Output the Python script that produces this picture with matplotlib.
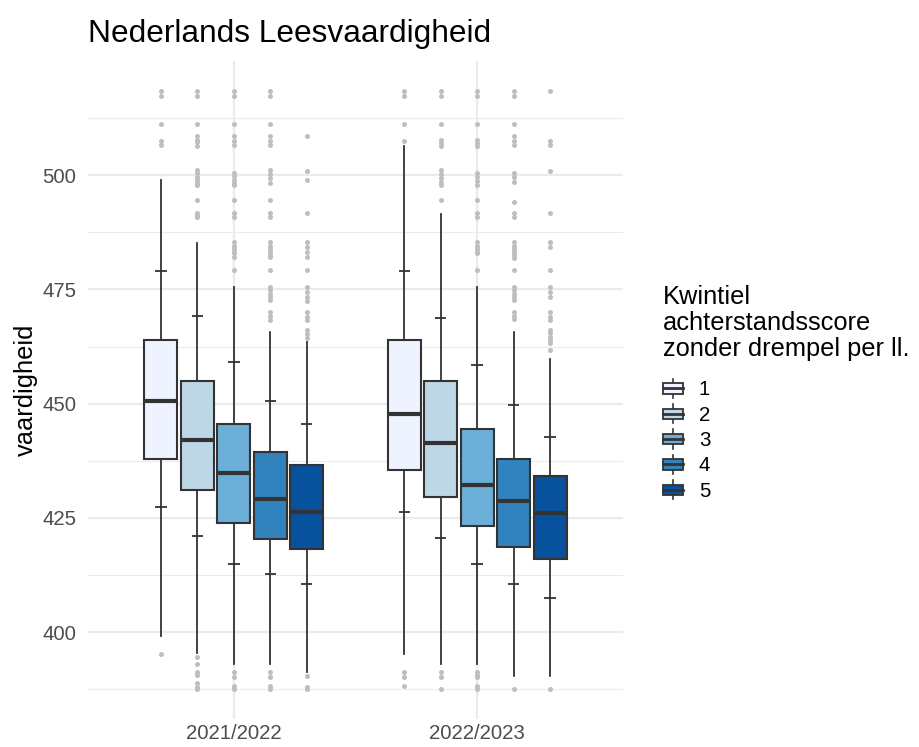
import numpy as np
import matplotlib
matplotlib.use("Agg")
from matplotlib import pyplot as plt
from matplotlib.patches import Rectangle
from matplotlib.lines import Line2D
from matplotlib.legend_handler import HandlerBase

plt.rcParams['font.family'] = ['Liberation Sans', 'DejaVu Sans']

years = ['2021/2022', '2022/2023']
quintiles = ['1', '2', '3', '4', '5']
colors = ['#EFF3FF', '#BDD7E7', '#6BAED6', '#3182BD', '#08519C']

# box statistics per year, per quintile
q1 = [[438.0, 431.1, 424.0, 420.5, 418.1],
      [435.4, 429.6, 423.3, 418.6, 416.1]]
med = [[450.6, 442.0, 434.9, 429.1, 426.2],
       [447.7, 441.4, 432.3, 428.6, 426.1]]
q3 = [[463.9, 454.9, 445.6, 439.4, 436.5],
      [463.9, 454.9, 444.4, 438.0, 434.2]]
whis_lo = [[399.2, 395.5, 393.0, 393.0, 391.2],
           [395.2, 393.0, 393.0, 390.4, 390.4]]
whis_hi = [[498.9, 485.2, 475.6, 465.6, 463.6],
           [506.5, 491.6, 475.6, 465.6, 459.8]]
# mean - sd / mean + sd
sd_lo = [[427.4, 421.0, 414.9, 412.7, 410.5],
         [426.2, 420.7, 414.9, 410.5, 407.4]]
sd_hi = [[479.0, 469.2, 459.1, 450.6, 445.5],
         [479.0, 468.7, 458.5, 449.7, 442.7]]

outliers = [
    [
        [518.5, 517.3, 511.3, 507.4, 506.7, 395.2],
        [518.5, 517.3, 511.3, 508.5, 507.8, 507.2, 506.5, 501.1, 500.4, 499.6, 498.9, 498.2, 497.8,
         494.5, 491.7, 491.2, 490.8, 394.5, 393.0, 391.3, 390.6, 388.9, 388.0, 387.5],
        [518.5, 517.3, 511.3, 508.5, 507.4, 506.6, 500.5, 499.8, 499.0, 498.2, 497.8, 494.5, 491.7, 490.8,
         485.3, 484.6, 483.9, 483.2, 482.9, 482.1, 479.2, 391.3, 390.2, 388.2, 387.5],
        [518.5, 517.3, 511.3, 508.5, 507.4, 506.6, 501.1, 500.2, 499.3, 498.3, 494.5, 491.7, 490.8,
         485.3, 484.6, 483.9, 483.2, 482.5, 482.1, 479.2, 475.5, 474.8, 474.1, 473.4, 472.7,
         470.0, 469.3, 468.3, 391.3, 390.2, 388.2, 387.5],
        [508.5, 501.0, 498.9, 491.7, 485.3, 484.3, 483.2, 482.1, 479.2, 475.5, 474.4, 473.3, 472.5,
         470.0, 469.0, 468.3, 466.1, 465.2, 464.4, 390.5, 388.0, 387.5],
    ],
    [
        [518.5, 517.3, 511.3, 507.5, 391.3, 390.2, 388.2],
        [518.5, 517.3, 511.3, 507.7, 507.0, 506.3, 501.1, 500.2, 499.3, 498.5, 497.8, 494.5,
         391.3, 390.2, 387.6],
        [518.5, 517.3, 511.3, 507.7, 507.0, 506.3, 500.5, 499.6, 498.7, 497.8, 494.5, 491.7, 490.8,
         485.3, 484.6, 483.9, 483.2, 482.9, 479.2, 391.3, 390.6, 390.2, 388.2, 387.5],
        [518.5, 517.3, 511.3, 508.5, 507.4, 506.6, 500.5, 499.6, 498.5, 494.2, 491.7, 490.8,
         485.3, 484.6, 483.9, 483.2, 482.5, 481.8, 479.2, 475.5, 474.8, 474.1, 473.4, 472.7,
         470.0, 469.3, 468.6, 387.6],
        [518.5, 507.5, 506.7, 501.0, 491.7, 485.3, 484.3, 479.2, 475.5, 474.4, 473.3,
         470.0, 469.0, 468.3, 466.1, 465.4, 464.6, 463.9, 463.2, 461.7, 387.6],
    ],
]

dark = '#333333'
slot = 0.15
box_w = 0.136

fig = plt.figure(figsize=(9.19, 7.47), dpi=100)
ax = fig.add_axes([88 / 919, 28 / 747, 535 / 919, 658 / 747])

for g in range(len(years)):
    for k in range(len(quintiles)):
        pos = g + 1 + (k - 2) * slot
        stats = [dict(med=med[g][k], q1=q1[g][k], q3=q3[g][k],
                      whislo=whis_lo[g][k], whishi=whis_hi[g][k],
                      fliers=outliers[g][k])]
        bp = ax.bxp(stats, positions=[pos], widths=box_w, patch_artist=True,
                    showcaps=False,
                    boxprops=dict(facecolor=colors[k], edgecolor=dark, linewidth=1.5),
                    medianprops=dict(color=dark, linewidth=3.0, solid_capstyle='butt'),
                    whiskerprops=dict(color=dark, linewidth=1.3),
                    flierprops=dict(marker='o', markerfacecolor='#bebebe',
                                    markeredgecolor='none', markersize=3.6),
                    manage_ticks=False)
        ax.hlines([sd_lo[g][k], sd_hi[g][k]], pos - 0.023, pos + 0.023,
                  color=dark, linewidth=1.3, zorder=3)

ax.set_xlim(0.4, 2.6)
ax.set_ylim(381, 525)
ax.set_xticks([1, 2])
ax.set_xticklabels(years)
ax.set_yticks([400, 425, 450, 475, 500])
ax.set_yticks([387.5, 412.5, 437.5, 462.5, 487.5, 512.5], minor=True)
ax.grid(True, which='major', color='#ebebeb', linewidth=1.6)
ax.grid(True, which='minor', axis='y', color='#ebebeb', linewidth=0.8)
ax.set_axisbelow(True)
for s in ax.spines.values():
    s.set_visible(False)
ax.tick_params(which='both', length=0)
ax.tick_params(axis='y', labelsize=14.7, labelcolor='#4d4d4d', pad=8.5)
ax.tick_params(axis='x', labelsize=14.7, labelcolor='#4d4d4d', pad=3.6)
ax.set_ylabel('vaardigheid', fontsize=18.3, color='black', labelpad=3)

fig.text(88 / 919, 1 - 42 / 747, 'Nederlands Leesvaardigheid', fontsize=22.8,
         ha='left', va='baseline')


class BoxKeyHandler(HandlerBase):
    def create_artists(self, legend, orig_handle, xdescent, ydescent,
                       width, height, fontsize, trans):
        x0, y0 = -xdescent, -ydescent
        cx = x0 + width / 2
        whisk = Line2D([cx, cx], [y0 - 0.1 * height, y0 + 1.1 * height],
                       color=dark, linewidth=1.2, transform=trans)
        rect = Rectangle((x0, y0 + 0.18 * height), width, 0.64 * height,
                         facecolor=orig_handle.get_facecolor(), edgecolor=dark,
                         linewidth=1.3, transform=trans)
        medl = Line2D([x0, x0 + width], [y0 + 0.5 * height] * 2,
                      color=dark, linewidth=2.0, transform=trans)
        return [whisk, rect, medl]


handles = [Rectangle((0, 0), 1, 1, facecolor=c) for c in colors]
leg = fig.legend(handles, quintiles, handler_map={Rectangle: BoxKeyHandler()},
                 loc='upper left', bbox_to_anchor=(663 / 919, 1 - 285 / 747),
                 frameon=False, fontsize=14.7, borderpad=0, borderaxespad=0,
                 handlelength=1.0, handleheight=0.85, handletextpad=0.75,
                 labelspacing=0.3,
                 title='Kwintiel\nachterstandsscore\nzonder drempel per ll.',
                 title_fontsize=18.3, alignment='left')
leg.get_title().set_linespacing(1.1)
# wider gap between legend title and keys
leg._legend_box.sep = 14

fig.savefig('out.png', dpi=100)
